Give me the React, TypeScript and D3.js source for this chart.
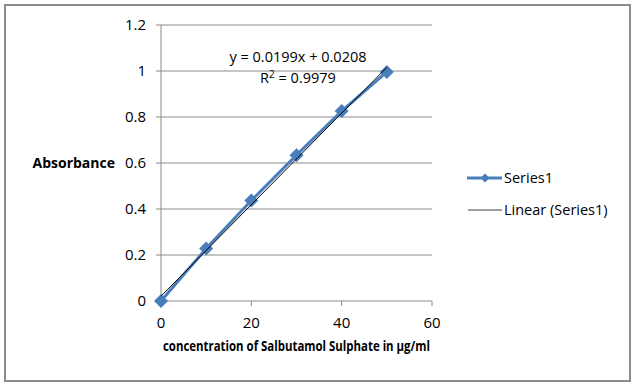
import React from "react";
import * as d3 from "d3";

const concentrations = [0, 10, 20, 30, 40, 50];
const absorbance = [0, 0.228, 0.437, 0.634, 0.826, 0.996];
const xTicks = [0, 20, 40, 60];
const yTicks = [0, 0.2, 0.4, 0.6, 0.8, 1, 1.2];
const trendSlope = 0.0199;
const trendIntercept = 0.0208;
const rSquared = 0.9979;
const seriesName = "Series1";
const trendName = "Linear (Series1)";
const xTitle = "concentration of Salbutamol Sulphate in µg/ml";
const yTitle = "Absorbance";

const W = 635;
const H = 387;
const FONT = "Open Sans, Noto Sans, sans-serif";
const BLUE = "#4A7EBB";

export default function App() {
  const x = d3.scaleLinear().domain([0, 60]).range([161, 432]);
  const y = d3.scaleLinear().domain([0, 1.2]).range([301, 25]);
  const line = d3
    .line<[number, number]>()
    .x((d) => x(d[0]))
    .y((d) => y(d[1]));
  const pts: [number, number][] = concentrations.map((c, i) => [c, absorbance[i]]);
  const tx0 = concentrations[0];
  const tx1 = concentrations[concentrations.length - 1];
  const trend: [number, number][] = [
    [tx0, trendIntercept + trendSlope * tx0],
    [tx1, trendIntercept + trendSlope * tx1],
  ];
  const diamond = (cx: number, cy: number, r: number) =>
    `M${cx},${cy - r}L${cx + r},${cy}L${cx},${cy + r}L${cx - r},${cy}Z`;

  return (
    <svg
      width={W}
      height={H}
      style={{ position: "absolute", left: 0, top: 0, background: "#fff" }}
      fontFamily={FONT}
    >
      <rect x={5} y={5} width={625} height={376} fill="#fff" stroke="#8c8c8c" strokeWidth={2} />
      {/* gridlines */}
      {yTicks.map((t) =>
        t === 0 ? null : (
          <line key={"g" + t} x1={x(0)} x2={x(60)} y1={y(t)} y2={y(t)} stroke="#8a8a8a" strokeWidth={1} />
        )
      )}
      {/* axes */}
      <line x1={x(0)} x2={x(0)} y1={y(0)} y2={y(1.2)} stroke="#8a8a8a" />
      <line x1={x(0)} x2={x(60)} y1={y(0)} y2={y(0)} stroke="#8a8a8a" />
      {yTicks.map((t) => (
        <g key={"y" + t}>
          <line x1={x(0) - 5} x2={x(0)} y1={y(t)} y2={y(t)} stroke="#8a8a8a" />
          <text x={146} y={y(t)} dy="0.35em" textAnchor="end" fontSize={15} fill="#000">
            {String(t)}
          </text>
        </g>
      ))}
      {xTicks.map((t) => (
        <g key={"x" + t}>
          <line x1={x(t)} x2={x(t)} y1={y(0)} y2={y(0) + 5} stroke="#8a8a8a" />
          <text x={x(t)} y={323} dy="0.35em" textAnchor="middle" fontSize={15} fill="#000">
            {String(t)}
          </text>
        </g>
      ))}
      <text
        x={163}
        y={346}
        dy="0.35em"
        fontSize={14}
        fontWeight="bold"
        fill="#000"
        textLength={267}
        lengthAdjust="spacingAndGlyphs"
      >
        {xTitle}
      </text>
      <text x={115} y={163} dy="0.35em" textAnchor="end" fontSize={14} fontWeight="bold" fill="#000">
        {yTitle}
      </text>
      {/* series */}
      <path d={line(pts) || ""} fill="none" stroke={BLUE} strokeWidth={3} />
      {pts.map((p, i) => (
        <path key={"m" + i} d={diamond(x(p[0]), y(p[1]), 7)} fill={BLUE} />
      ))}
      <path d={line(trend) || ""} fill="none" stroke="#000" strokeWidth={1} />
      {/* equation */}
      <text x={298} y={57} dy="0.35em" textAnchor="middle" fontSize={14.5} fill="#000">
        {`y = ${trendSlope}x + ${trendIntercept}`}
      </text>
      <text x={298} y={78} dy="0.35em" textAnchor="middle" fontSize={14.5} fill="#000">
        R<tspan fontSize={10} dy="-5">2</tspan>
        <tspan dy="5">{` = ${rSquared}`}</tspan>
      </text>
      {/* legend */}
      <line x1={467} x2={502} y1={178} y2={178} stroke={BLUE} strokeWidth={3} />
      <path d={diamond(485, 178, 4.5)} fill={BLUE} />
      <text x={504} y={178} dy="0.35em" fontSize={14.5} fill="#000">
        {seriesName}
      </text>
      <line x1={468} x2={502} y1={210} y2={210} stroke="#404040" strokeWidth={1} />
      <text x={504} y={210} dy="0.35em" fontSize={14.5} fill="#000">
        {trendName}
      </text>
    </svg>
  );
}
